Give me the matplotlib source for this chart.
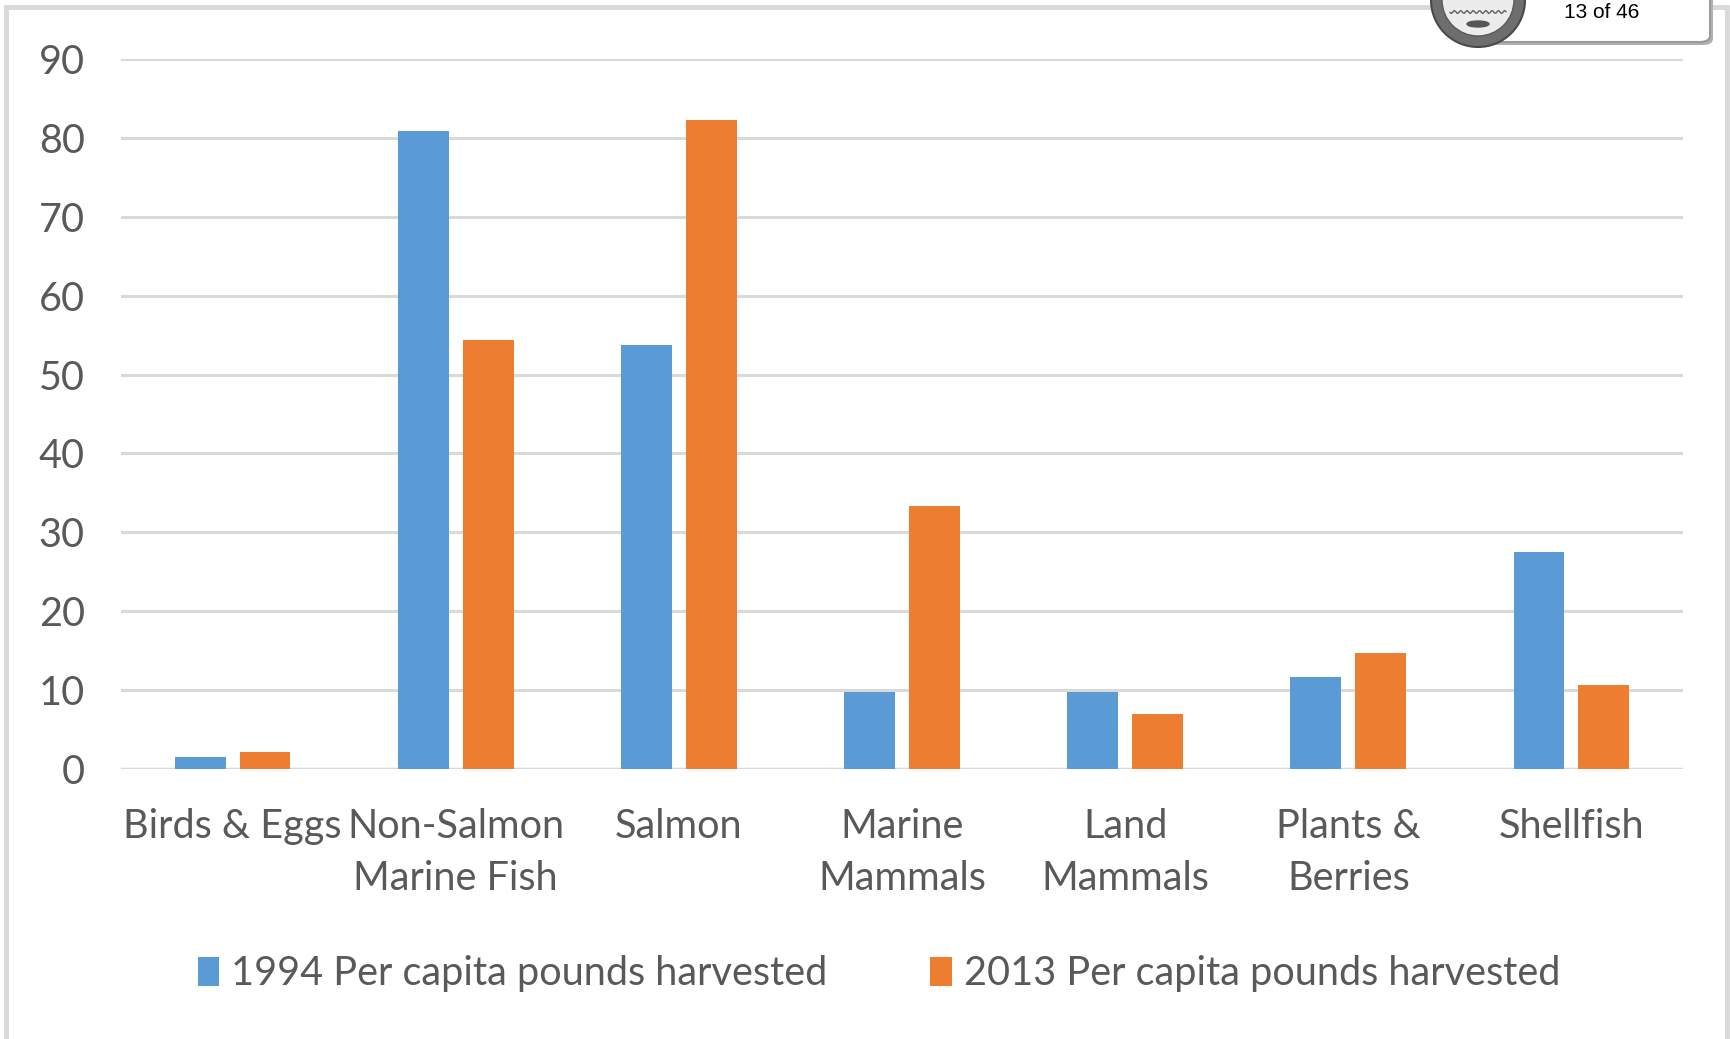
import matplotlib
matplotlib.use("Agg")
import matplotlib.pyplot as plt
import numpy as np
from matplotlib.patches import Rectangle, FancyBboxPatch, Circle, Ellipse

categories = ["Birds & Eggs", "Non-Salmon\nMarine Fish", "Salmon", "Marine\nMammals",
              "Land\nMammals", "Plants &\nBerries", "Shellfish"]
harvest_1994 = [1.5, 80.9, 53.8, 9.7, 9.7, 11.7, 27.5]
harvest_2013 = [2.2, 54.4, 82.3, 33.3, 7.0, 14.7, 10.6]
series_labels = ["1994 Per capita pounds harvested", "2013 Per capita pounds harvested"]
yticks = [0, 10, 20, 30, 40, 50, 60, 70, 80, 90]
page_label = "13 of 46"

BLUE = "#5b9bd5"
ORANGE = "#ed7d31"
GRID = "#d9d9d9"
TEXT = "#595959"
FONT = ["Lato", "DejaVu Sans"]

W, H = 1730, 1039
fig = plt.figure(figsize=(W / 100, H / 100), dpi=100)
fig.patch.set_facecolor("white")

# axes placed in pixel terms: x 121..1683, y 769 (zero) .. 59 (ninety)
left, right = 121 / W, 1683 / W
bottom, top = 1 - 769 / H, 1 - 59 / H
ax = fig.add_axes([left, bottom, right - left, top - bottom])
ax.set_xlim(-0.5, len(categories) - 0.5)
ax.set_ylim(0, 90)

x = np.arange(len(categories))
bw = 0.228
off = (bw + 0.063) / 2
ax.bar(x - off, harvest_1994, bw, color=BLUE, label=series_labels[0], zorder=3)
ax.bar(x + off, harvest_2013, bw, color=ORANGE, label=series_labels[1], zorder=3)

for s in ax.spines.values():
    s.set_visible(False)
ax.set_yticks(yticks)
ax.set_yticklabels([str(v) for v in yticks], fontsize=28.5, color=TEXT, family=FONT)
ax.yaxis.grid(True, color=GRID, linewidth=2.2, zorder=0)
ax.axhline(0, color=GRID, linewidth=2.5, zorder=2)
ax.tick_params(axis="y", length=0, pad=26)
ax.tick_params(axis="x", length=0, pad=28)
ax.set_xticks(x)
ax.set_xticklabels(categories, fontsize=28.5, color=TEXT, family=FONT, linespacing=1.52, va="top")
ax.set_axisbelow(True)

leg = fig.legend(loc="center", bbox_to_anchor=(879 / W, 1 - 974 / H), ncol=2, frameon=False,
                 prop={"family": FONT, "size": 28.5}, handlelength=0.55, handleheight=0.75,
                 handletextpad=0.3, columnspacing=2.6, labelcolor=TEXT)

# outer page frame
fig.add_artist(Rectangle((6 / W, -0.01), (1727 - 6) / W, (1 - 7 / H) + 0.01,
                         transform=fig.transFigure, fill=False, edgecolor=GRID, linewidth=3.5))

# page counter tab in the top-right corner (with a soft drop shadow)
fig.add_artist(FancyBboxPatch((1482 / W, 1 - 45 / H), (1713 - 1482) / W, 70 / H,
                              boxstyle="round,pad=0,rounding_size=0.006", transform=fig.transFigure,
                              facecolor="#b0b0b0", edgecolor="none", zorder=4))
fig.add_artist(FancyBboxPatch((1478 / W, 1 - 42 / H), (1710 - 1478) / W, 70 / H,
                              boxstyle="round,pad=0,rounding_size=0.006", transform=fig.transFigure,
                              facecolor="white", edgecolor="#9a9a9a", linewidth=1.5, zorder=5))
fig.text(1602 / W, 1 - 12 / H, page_label, ha="center", va="center", fontsize=15,
         family=["Liberation Sans", "DejaVu Sans"], color="black", zorder=6)

# circular seal next to the tab
seal_ax = fig.add_axes([1420 / W, 1 - 52 / H, 116 / W, 104 / H], zorder=7)
seal_ax.set_xlim(-58, 58)
seal_ax.set_ylim(-52, 52)
seal_ax.set_aspect("equal")
seal_ax.axis("off")
seal_ax.add_patch(Circle((0, 0), 47, facecolor="#6e6e6e", edgecolor="#4a4a4a", linewidth=1.5))
seal_ax.add_patch(Circle((0, 0), 36, facecolor="#ececec", edgecolor="#5a5a5a", linewidth=1))
wave = np.linspace(-28, 28, 40)
seal_ax.plot(wave, -12 + 1.5 * np.sin(wave), color="#606060", lw=1)
seal_ax.add_patch(Ellipse((0, -24), 22, 6, color="#555555"))
seal_ax.add_patch(Ellipse((-4, 8), 20, 12, color="#555555"))

fig.savefig("out.png", dpi=100, facecolor="white")
